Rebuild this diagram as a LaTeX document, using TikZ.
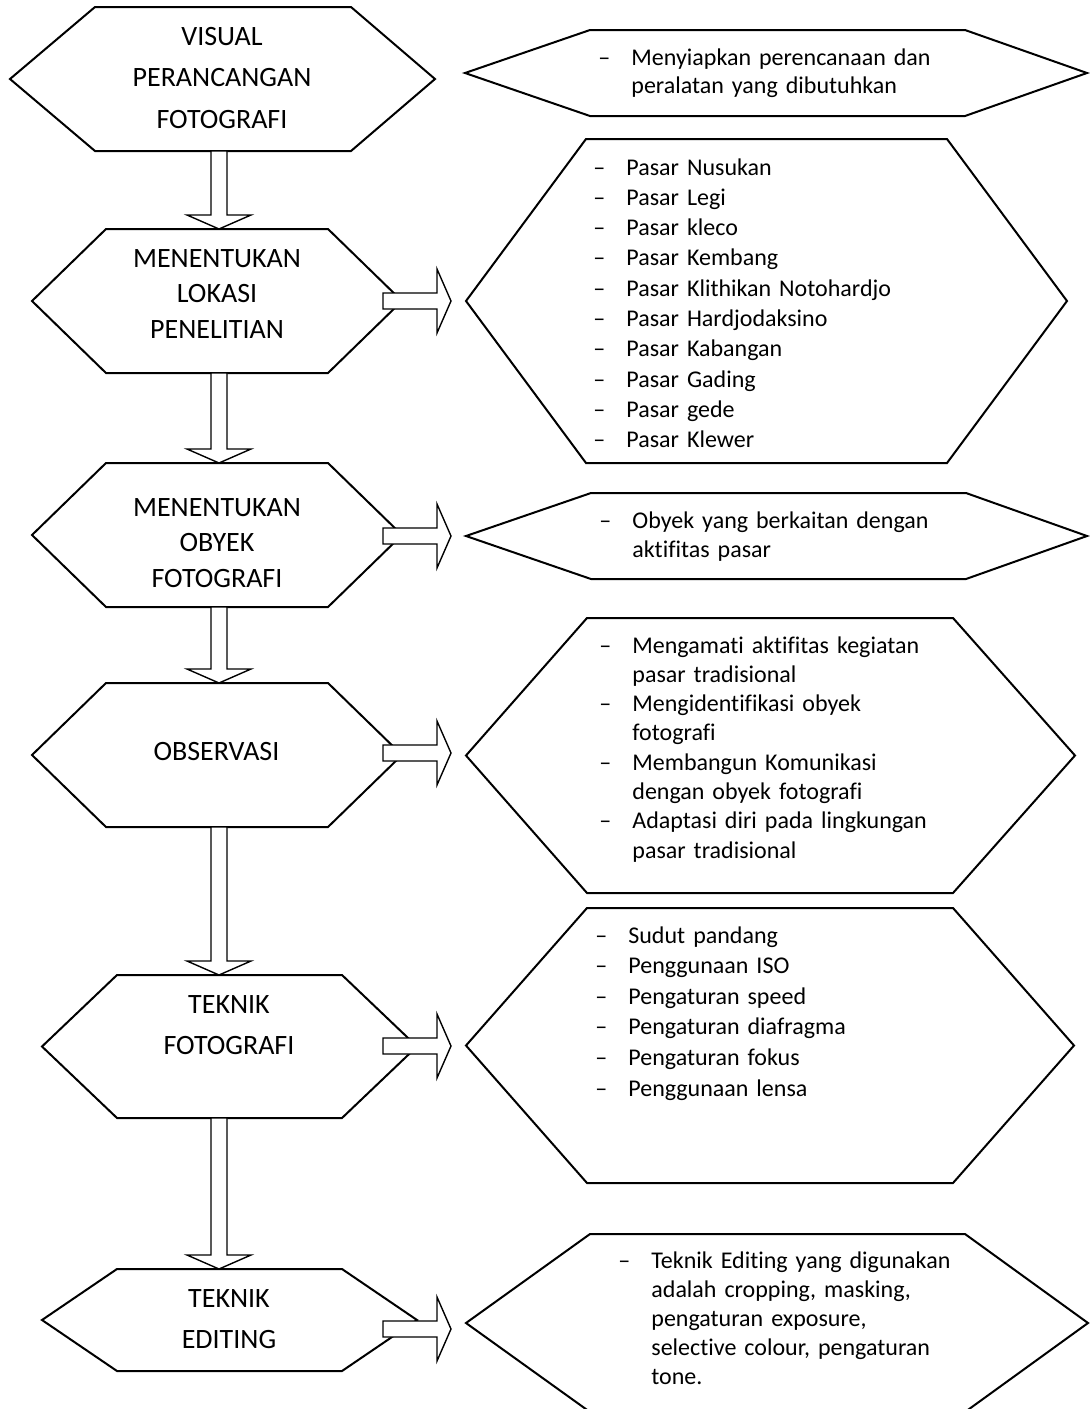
\documentclass[tikz,border=0pt]{standalone}
\usepackage{fontspec}
\setmainfont[Ligatures={TeX,CommonOff}]{Carlito}
\usetikzlibrary{calc}

% hexagon: left tip, inner left, inner right, right tip, top, bottom
\newcommand{\hexa}[6]{%
  \draw[hexline] (#1,{(#5+#6)/2}) -- (#2,#5) -- (#3,#5) -- (#4,{(#5+#6)/2})
    -- (#3,#6) -- (#2,#6) -- cycle;}
% block arrows between two named points
\newcommand{\vblock}[2]{%
  \draw[blockarrow] let \p1=(#1), \p2=(#2) in
    (\x1-4pt,\y1) -- (\x1-4pt,\y2+7pt) -- (\x1-16pt,\y2+7pt) -- (\x2,\y2)
    -- (\x1+16pt,\y2+7pt) -- (\x1+4pt,\y2+7pt) -- (\x1+4pt,\y1) -- cycle;}
\newcommand{\hblock}[2]{%
  \draw[blockarrow] let \p1=(#1), \p2=(#2) in
    (\x1,\y1+4pt) -- (\x2-7pt,\y1+4pt) -- (\x2-7pt,\y1+16pt) -- (\x2,\y2)
    -- (\x2-7pt,\y1-16pt) -- (\x2-7pt,\y1-4pt) -- (\x1,\y1-4pt) -- cycle;}
\newcommand{\itemline}[1]{\makebox[16.5pt][l]{\textendash}#1}
\newcommand{\contline}[1]{\hspace*{16.5pt}#1}

\begin{document}
\begin{tikzpicture}[x=0.5pt,y=-0.5pt,
   hexline/.style={draw,line width=1pt,fill=white,line join=miter},
   blockarrow/.style={draw,line width=0.7pt,fill=white},
   steptext/.style={inner sep=0pt,anchor=base,align=center,text width=200pt,
     font=\fontsize{14}{#1}\selectfont},
   listtext/.style={inner sep=0pt,anchor=base west,align=left,text width=250pt,
     font=\fontsize{12}{#1}\selectfont}]
\fill[white] (0,0) rectangle (1089,1409);
\useasboundingbox (0,0) rectangle (1089,1409);

% left column
\hexa{10}{95}{351}{435}{7}{151}
\hexa{32}{106}{328}{402}{229}{373}
\hexa{32}{106}{328}{402}{463}{607}
\hexa{32}{106}{328}{402}{683}{827}
\hexa{42}{117}{342}{417}{975}{1118}
\hexa{42}{117}{342}{417}{1269}{1371}

% right column
\hexa{465}{590}{965}{1087}{30}{116}
\hexa{466}{586}{947}{1067}{139}{463}
\hexa{466}{591}{966}{1087}{493}{579}
\hexa{466}{587}{953}{1075}{618}{893}
\hexa{466}{587}{953}{1074}{908}{1183}
\hexa{466}{590}{965}{1088}{1234}{1412}

\node[steptext=20.75pt] (visual) at (222,45) {VISUAL\\PERANCANGAN\\FOTOGRAFI};
\node[steptext=17.75pt] (lokasi) at (217,267) {MENENTUKAN\\LOKASI\\PENELITIAN};
\node[steptext=17.75pt] (obyek) at (217,516) {MENENTUKAN\\OBYEK\\FOTOGRAFI};
\node[steptext=17.75pt] (observasi) at (216.5,760) {OBSERVASI};
\node[steptext=20.5pt] (fototek) at (229,1013) {TEKNIK\\FOTOGRAFI};
\node[steptext=20.5pt] (editing) at (229,1307) {TEKNIK\\EDITING};

\node[listtext=14pt] (siapkan) at (598,65) {\itemline{Menyiapkan perencanaan dan}\\
  \contline{peralatan yang dibutuhkan}};
\node[listtext=15.15pt] (pasar) at (593,175) {\itemline{Pasar Nusukan}\\
  \itemline{Pasar Legi}\\ \itemline{Pasar kleco}\\ \itemline{Pasar Kembang}\\
  \itemline{Pasar Klithikan Notohardjo}\\ \itemline{Pasar Hardjodaksino}\\
  \itemline{Pasar Kabangan}\\ \itemline{Pasar Gading}\\ \itemline{Pasar gede}\\
  \itemline{Pasar Klewer}};
\node[listtext=14.5pt] (objek) at (599,528) {\itemline{Obyek yang berkaitan dengan}\\
  \contline{aktifitas pasar}};
\node[listtext=14.65pt] (amati) at (599,653) {\itemline{Mengamati aktifitas kegiatan}\\
  \contline{pasar tradisional}\\ \itemline{Mengidentifikasi obyek}\\
  \contline{fotografi}\\ \itemline{Membangun Komunikasi}\\
  \contline{dengan obyek fotografi}\\ \itemline{Adaptasi diri pada lingkungan}\\
  \contline{pasar tradisional}};
\node[listtext=15.3pt] (setting) at (595,943) {\itemline{Sudut pandang}\\
  \itemline{Penggunaan ISO}\\ \itemline{Pengaturan speed}\\
  \itemline{Pengaturan diafragma}\\ \itemline{Pengaturan fokus}\\
  \itemline{Penggunaan lensa}};
\node[listtext=14.6pt] (olah) at (618,1268) {\itemline{Teknik Editing yang digunakan}\\
  \contline{adalah cropping, masking,}\\ \contline{pengaturan exposure,}\\
  \contline{selective colour, pengaturan}\\ \contline{tone.}};

% arrow ends
\coordinate (visual-s) at (219,151);
\coordinate (lokasi-n) at (219,229);
\coordinate (lokasi-s) at (219,373);
\coordinate (obyek-n) at (219,463);
\coordinate (obyek-s) at (219,607);
\coordinate (observasi-n) at (219,683);
\coordinate (observasi-s) at (219,827);
\coordinate (fototek-n) at (219,975);
\coordinate (fototek-s) at (219,1118);
\coordinate (editing-n) at (219,1269);
\coordinate (lokasi-e) at (383,301);
\coordinate (pasar-w) at (451,301);
\coordinate (obyek-e) at (383,536);
\coordinate (objek-w) at (451,536);
\coordinate (observasi-e) at (383,753);
\coordinate (amati-w) at (451,753);
\coordinate (fototek-e) at (383,1046);
\coordinate (setting-w) at (451,1046);
\coordinate (editing-e) at (383,1329);
\coordinate (olah-w) at (451,1329);

\vblock{visual-s}{lokasi-n}
\vblock{lokasi-s}{obyek-n}
\vblock{obyek-s}{observasi-n}
\vblock{observasi-s}{fototek-n}
\vblock{fototek-s}{editing-n}
\hblock{lokasi-e}{pasar-w}
\hblock{obyek-e}{objek-w}
\hblock{observasi-e}{amati-w}
\hblock{fototek-e}{setting-w}
\hblock{editing-e}{olah-w}
\end{tikzpicture}
\end{document}
